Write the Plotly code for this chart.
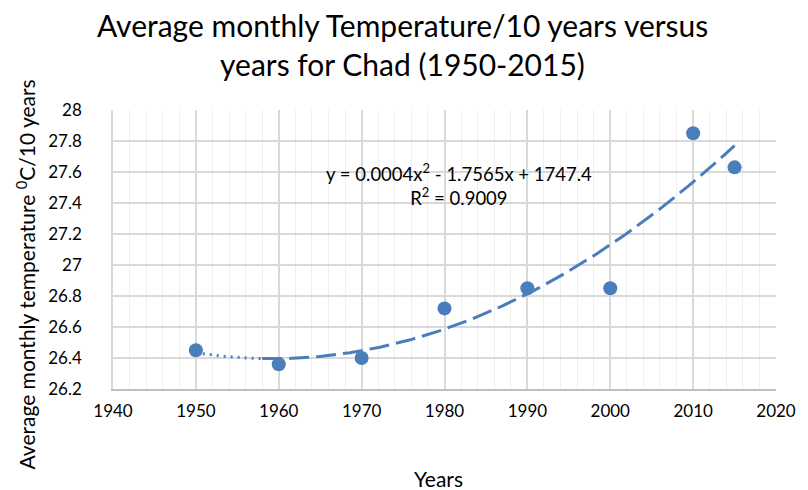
import numpy as np
import plotly.graph_objects as go

years = [1950, 1960, 1970, 1980, 1990, 2000, 2010, 2015]
temps = [26.45, 26.36, 26.40, 26.72, 26.85, 26.85, 27.85, 27.63]

x_ticks = [1940, 1950, 1960, 1970, 1980, 1990, 2000, 2010, 2020]
y_ticks = [26.2, 26.4, 26.6, 26.8, 27.0, 27.2, 27.4, 27.6, 27.8, 28.0]
y_labels = ["26.2", "26.4", "26.6", "26.8", "27", "27.2", "27.4", "27.6", "27.8", "28"]

title_lines = ["Average monthly Temperature/10 years versus", "years for Chad (1950-2015)"]
eq_text = "y = 0.0004x<sup>2</sup> - 1.7565x + 1747.4<br>R<sup>2</sup> = 0.9009"
x_title = "Years"
y_title = "Average monthly temperature <sup>0</sup>C/10 years"

color = "#4A7EBB"
font_family = "Lato, 'Open Sans', sans-serif"

W, H = 808, 490
L, R, T, B = 113, 28, 110, 101
pw, ph = W - L - R, H - T - B


def px(x):
    return (x - L) / pw


def py(y):
    return (H - B - y) / ph


# quadratic trendline fitted to the data
coef = np.polyfit(np.array(years, dtype=float) - 1980, temps, 2)
tx1 = np.linspace(1950, 1958, 30)
tx2 = np.linspace(1958, 2015, 200)
ty1 = np.polyval(coef, tx1 - 1980)
ty2 = np.polyval(coef, tx2 - 1980)

fig = go.Figure()
fig.add_trace(go.Scatter(x=tx1, y=ty1, mode="lines",
                         line=dict(color=color, width=3, dash="2px,5px"),
                         hoverinfo="skip", showlegend=False))
fig.add_trace(go.Scatter(x=tx2, y=ty2, mode="lines",
                         line=dict(color=color, width=3, dash="20px,7px"),
                         hoverinfo="skip", showlegend=False))
fig.add_trace(go.Scatter(x=years, y=temps, mode="markers",
                         marker=dict(color=color, size=14),
                         showlegend=False))

annotations = [
    dict(text=title_lines[0], x=px(404), y=py(25), font=dict(size=30)),
    dict(text=title_lines[1], x=px(404), y=py(64), font=dict(size=30)),
    dict(text=x_title, x=px(440), y=py(478), font=dict(size=21)),
    dict(text=y_title, x=px(25), y=py(275), font=dict(size=21), textangle=-90),
    dict(text=eq_text, x=px(461), y=py(184), font=dict(size=18.5), align="center"),
]
for a in annotations:
    a.update(xref="paper", yref="paper", showarrow=False,
             xanchor="center", yanchor="middle")
    a["font"].update(color="#000000", family=font_family)

fig.update_layout(
    width=W, height=H,
    margin=dict(l=L, r=R, t=T, b=B),
    paper_bgcolor="white", plot_bgcolor="white",
    font=dict(family=font_family, color="#000000"),
    xaxis=dict(range=[1940, 2020], tickvals=x_ticks, ticks="",
               showgrid=True, gridcolor="#D9D9D9", gridwidth=1.5,
               minor=dict(dtick=2, showgrid=True, gridcolor="#EFEFEF", gridwidth=1),
               showline=True, linecolor="#BFBFBF", linewidth=1.5,
               tickfont=dict(size=17, color="#000000"),
               ticklabelstandoff=6,
               zeroline=False),
    yaxis=dict(range=[26.2, 28.0], tickvals=y_ticks, ticktext=y_labels, ticks="",
               showgrid=True, gridcolor="#D9D9D9", gridwidth=1.5,
               showline=True, linecolor="#D9D9D9", linewidth=1.5,
               tickfont=dict(size=17, color="#000000"),
               ticklabelstandoff=26,
               zeroline=False),
    annotations=annotations,
)

fig.write_html("out.html", config={"displayModeBar": False},
               post_script="document.body.style.margin='0';")
